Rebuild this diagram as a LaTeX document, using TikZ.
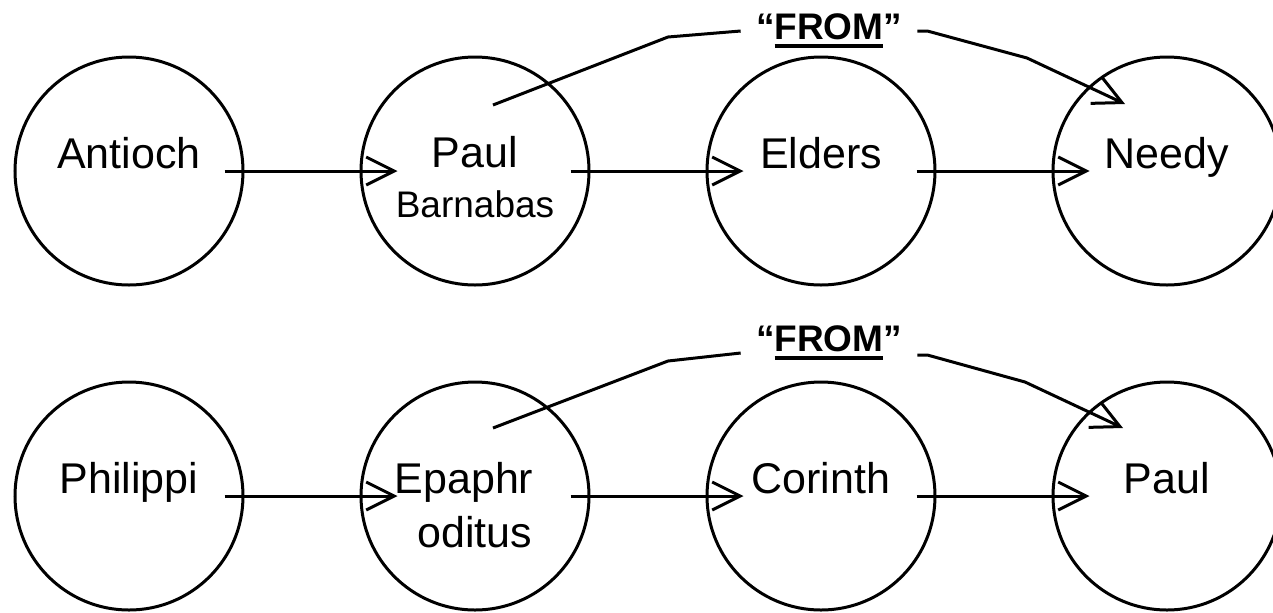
\documentclass[tikz,border=0pt]{standalone}
\usepackage{fontspec}
\setmainfont{Liberation Sans}
\usetikzlibrary{arrows.meta, positioning}
\newcommand{\thickul}[1]{\setbox0\hbox{#1}\rlap{\rule[-4pt]{\wd0}{2pt}}\box0}

\begin{document}
\begin{tikzpicture}[x=0.5pt, y=-0.5pt, >={Straight Barb[length=14pt, width=14pt]}]
	\tikzset{
		place/.style={circle, draw=black, line width=1.5pt, minimum size=114pt, inner sep=0pt, text height=0pt, text depth=3pt, align=center, font=\fontsize{21.5pt}{27pt}\selectfont},
		twoline/.style={text height=#1, text depth=0pt},
		fromnode/.style={inner sep=7.5pt, font=\fontsize{18.5pt}{22pt}\selectfont\bfseries},
		flow/.style={->, line width=1.5pt},
		link/.style={line width=1.5pt},
	}
	\useasboundingbox (0,0) rectangle (1273,612);

	\node[place] (antioch) at (129,171) {Antioch};
	\node[place, twoline=46pt, right = 57.5pt of antioch] (paul1) {Paul\\[-2pt]{\fontsize{18.5pt}{25pt}\selectfont Barnabas}};
	\node[place, right = 57.5pt of paul1] (elders) {Elders};
	\node[place, right = 57.5pt of elders] (needy) {Needy};

	\draw[flow] ([xshift=-10pt]antioch.east) -- ([xshift=19pt]paul1.west);
	\draw[flow] ([xshift=-10pt]paul1.east) -- ([xshift=19pt]elders.west);
	\draw[flow] ([xshift=-10pt]elders.east) -- ([xshift=19pt]needy.west);

	\node[fromnode] (from1) at (829,31) {``\thickul{FROM}''};
	\coordinate (in1) at ([shift={(18,-66)}]paul1.center);
	\coordinate (bend1) at (668,37);
	\coordinate (bend2) at (1027,58);
	\coordinate (out1) at ([shift={(-42,-67)}]needy.center);

	\draw[link] (in1) -- (bend1) -- (from1.west);
	\draw[flow] (from1.east) -- ++(10,0) -- (bend2) -- (out1);

	\node[place, below = 47pt of antioch] (philippi) {Philippi};
	\node[place, twoline=51pt, right = 57.5pt of philippi] (epaph) {Epaphr\hspace*{11pt}\\oditus};
	\node[place, right = 57.5pt of epaph] (corinth) {Corinth};
	\node[place, right = 57.5pt of corinth] (paul2) {Paul};

	\draw[flow] ([xshift=-10pt]philippi.east) -- ([xshift=19pt]epaph.west);
	\draw[flow] ([xshift=-10pt]epaph.east) -- ([xshift=19pt]corinth.west);
	\draw[flow] ([xshift=-10pt]corinth.east) -- ([xshift=19pt]paul2.west);

	\node[fromnode] (from2) at (829,343) {``\thickul{FROM}''};
	\coordinate (in2) at ([shift={(18,-68)}]epaph.center);
	\coordinate (bend3) at (668,361);
	\coordinate (bend4) at (1025,382);
	\coordinate (out2) at ([shift={(-44,-68)}]paul2.center);

	\draw[link] (in2) -- (bend3) -- ([yshift=-5pt]from2.west);
	\draw[flow] ([yshift=-6pt]from2.east) -- ++(10,0) -- (bend4) -- (out2);
\end{tikzpicture}
\end{document}
